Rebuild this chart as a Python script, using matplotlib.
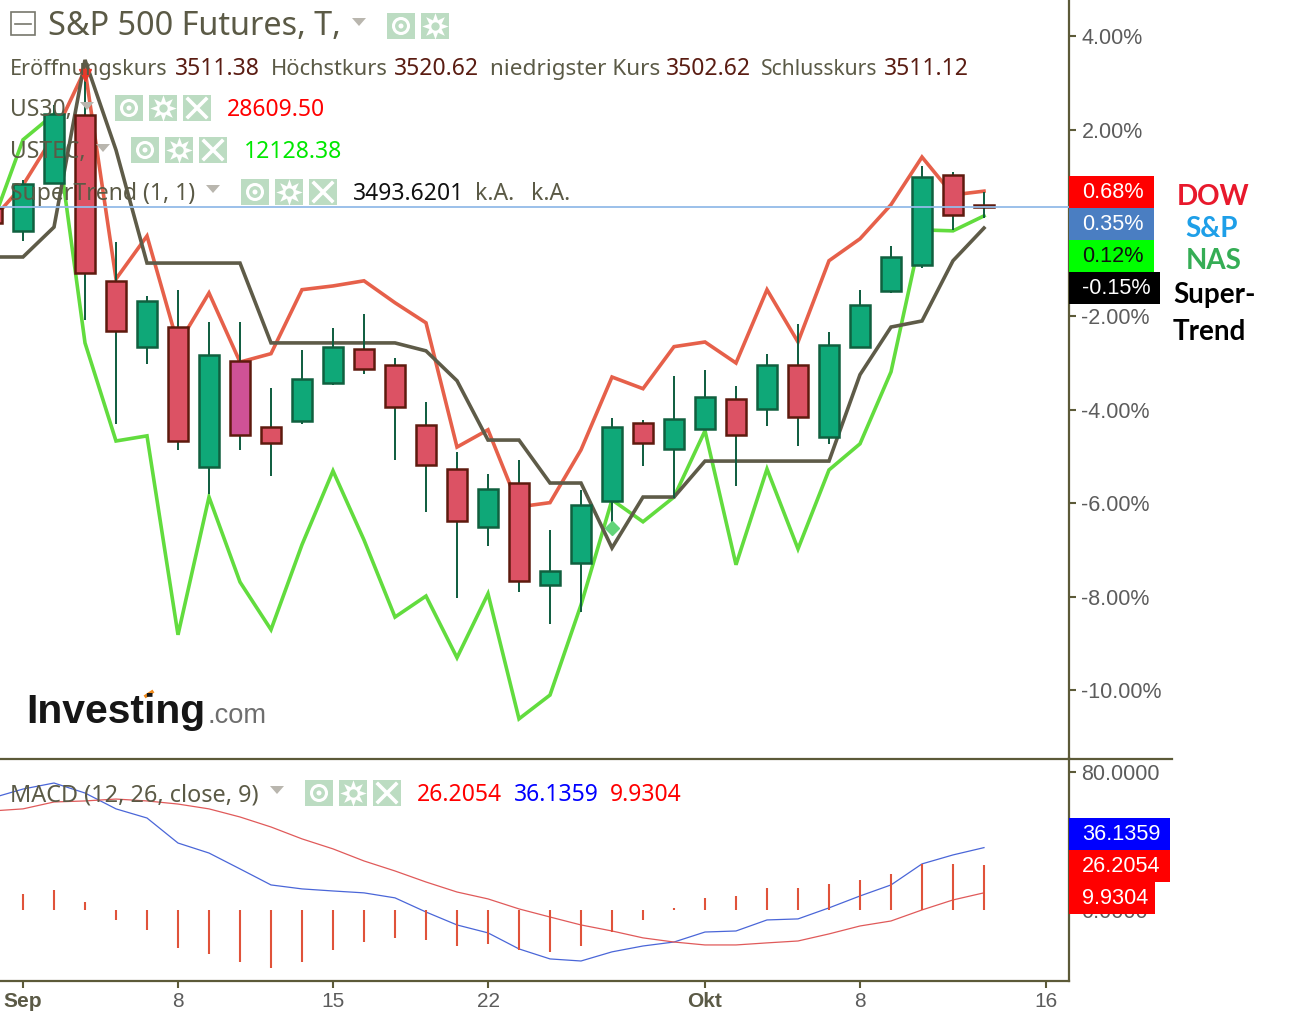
# %% --------------- IMPORT
from matplotlib import pyplot as plt
from matplotlib.patches import Rectangle, Circle, Polygon
import numpy as np

# %% --------------- DATA
bar_idx = np.arange(-1, 32)
open_p = [0.32, -0.17, 0.86, 2.31, -1.24, -2.65, -2.23, -5.22, -2.95, -4.37, -4.24, -3.43, -2.70, -3.04, -4.32, -5.27,
          -6.51, -5.57, -7.75, -7.28, -5.95, -4.28, -4.84, -4.41, -3.77, -3.98, -3.04, -4.58, -2.65, -1.46, -0.90, 1.03, 0.39]
close_p = [0.00, 0.84, 2.33, -1.07, -2.31, -1.67, -4.67, -2.83, -4.54, -4.71, -3.34, -2.65, -3.13, -3.94, -5.18, -6.38,
           -5.70, -7.66, -7.45, -6.04, -4.37, -4.71, -4.20, -3.73, -4.54, -3.04, -4.15, -2.61, -1.76, -0.73, 0.98, 0.17, 0.34]
high_p = [0.40, 0.92, 2.53, 3.10, -0.41, -1.56, -1.43, -2.12, -2.12, -3.53, -2.72, -2.25, -1.95, -2.89, -3.83, -4.90,
          -5.37, -5.07, -6.57, -5.72, -4.17, -4.22, -3.28, -3.15, -3.49, -2.80, -2.16, -2.33, -1.43, -0.49, 1.22, 1.09, 0.66]
low_p = [-0.10, -0.39, 0.86, -2.08, -4.30, -3.02, -4.86, -5.80, -4.86, -5.42, -4.30, -3.47, -3.23, -5.07, -6.19, -8.03,
         -6.92, -7.90, -8.59, -8.33, -6.57, -5.20, -5.89, -4.43, -5.63, -4.35, -4.77, -4.73, -2.68, -1.50, -0.96, -0.15, 0.11]

dow = [0.06, 0.81, 1.88, 3.28, -1.20, -0.28, -2.61, -1.50, -2.98, -2.80, -1.43, -1.35, -1.24, -1.71, -2.14, -4.80, -4.43,
       -6.08, -5.99, -4.86, -3.30, -3.55, -2.65, -2.55, -3.00, -1.43, -2.55, -0.81, -0.34, 0.39, 1.41, 0.60, 0.68]
nas = [-0.04, 1.78, 2.33, -2.57, -4.67, -4.56, -8.82, -5.87, -7.69, -8.71, -6.89, -5.31, -6.79, -8.44, -7.99, -9.31, -7.94,
       -10.62, -10.11, -8.18, -5.93, -6.40, -5.87, -4.45, -7.32, -5.27, -6.98, -5.29, -4.73, -3.19, -0.15, -0.17, 0.15]
supertrend = [-0.73, -0.73, -0.09, 3.49, 1.56, -0.86, -0.86, -0.86, -0.86, -2.57, -2.57, -2.57, -2.57, -2.57, -2.74, -3.38,
              -4.65, -4.65, -5.57, -5.57, -6.96, -5.87, -5.87, -5.10, -5.10, -5.10, -5.10, -5.10, -3.25, -2.23, -2.10, -0.81, -0.11]

macd = [64.9, 70.1, 73.6, 67.8, 58.6, 53.3, 38.8, 33.0, 23.8, 14.5, 12.2, 11.0, 9.9, 7.0, -1.2, -8.7, -13.3, -22.6, -28.4,
        -29.6, -24.3, -20.9, -18.6, -12.8, -12.2, -5.8, -5.2, 1.2, 8.1, 14.5, 26.7, 31.9, 36.1359]
signal = [57.4, 58.6, 62.6, 63.2, 64.3, 63.2, 61.4, 58.6, 53.9, 48.1, 41.2, 35.4, 28.4, 22.6, 16.2, 10.4, 6.4, 0.6, -4.1,
          -8.7, -12.2, -16.2, -18.6, -20.3, -20.3, -19.1, -18.0, -13.9, -9.3, -6.4, 0.0, 5.8, 9.9304]
hist = [9.3, 11.6, 4.6, -5.8, -11.6, -22.0, -25.5, -30.1, -33.6, -30.1, -23.2, -18.6, -16.2, -17.4, -20.9, -19.7, -23.2,
        -24.3, -20.9, -12.8, -5.8, 1.2, 7.0, 8.1, 12.8, 12.8, 15.1, 17.4, 20.9, 26.7, 26.7, 26.2054]

price_ticks = [4, 2, 0, -2, -4, -6, -8, -10]
macd_ticks = [80, 0]
date_ticks = [0, 5, 10, 15, 22, 27, 33]
date_labels = ["Sep", "8", "15", "22", "Okt", "8", "16"]
last_line = 0.35

# %% --------------- STYLE
OLIVE = "#5c5a38"
TXT = "#5b5a46"
DARK_RED = "#5a1c12"
UI_FONT = "Noto Sans"
AXIS_FONT = "Liberation Sans"

fig = plt.figure(figsize=(13.07, 10.13), dpi=100)
W, H = 1307, 1013
ax_1 = fig.add_axes([0, (H - 758) / H, 1069 / W, 758 / H])
ax_2 = fig.add_axes([0, (H - 981) / H, 1069 / W, (981 - 758) / H])
over = fig.add_axes([0, 0, 1, 1], zorder=10)
over.set_xlim(0, W)
over.set_ylim(H, 0)
over.axis("off")

# %% --------------- PRICE PANE
ax_1.plot(bar_idx, dow, color="#e6604a", lw=2.6, zorder=2, solid_joinstyle="miter")
ax_1.plot(bar_idx, nas, color="#62dc3e", lw=2.6, zorder=2, solid_joinstyle="miter")
ax_1.plot(bar_idx, supertrend, color="#5e5b48", lw=2.6, zorder=2, solid_joinstyle="miter")

ax_1.vlines(bar_idx, low_p, high_p, color="#0d5c3e", lw=1.4, zorder=3)
for i, o, c in zip(bar_idx, open_p, close_p):
    up = c > o
    face = "#0fa878" if up else "#dc5264"
    if i == 7:
        face = "#cf5296"
    edge = "#10603f" if up else "#5e1a0e"
    ax_1.bar(i, abs(c - o), bottom=min(o, c), width=0.66, color=face, edgecolor=edge, linewidth=1.8, zorder=4)

ax_1.plot([2], [3.17], marker="v", color="#e8392a", ms=9, zorder=5)
ax_1.plot([19], [-6.53], marker="D", color="#63d47a", ms=7, zorder=5)
ax_1.axhline(last_line, color="#93bbe8", lw=1.3, zorder=6)

ax_1.set_xlim(-0.742, 33.742)
ax_1.set_ylim(-11.458, 4.773)
ax_1.yaxis.tick_right()
ax_1.set_yticks(price_ticks)
ax_1.set_yticklabels(["" if v == 0 else f"{v:.2f}%" for v in price_ticks], fontfamily=AXIS_FONT, fontsize=15.5, color="#5c5c5c")
ax_1.tick_params(axis="y", length=5, width=1.5, color=OLIVE, pad=4)
ax_1.set_xticks([])
for name in ["top", "left", "bottom"]:
    ax_1.spines[name].set_visible(False)
ax_1.spines["right"].set_color(OLIVE)
ax_1.spines["right"].set_linewidth(1.6)

# %% --------------- MACD PANE
ax_2.plot(bar_idx, macd, color="#4a66d8", lw=0.9)
ax_2.plot(bar_idx, signal, color="#e05a5a", lw=0.9)
ax_2.vlines(bar_idx[1:], 0, hist, color="#e0533a", lw=1.5)
ax_2.set_xlim(-0.742, 33.742)
ax_2.set_ylim(-41.2, 88.1)
ax_2.yaxis.tick_right()
ax_2.set_yticks(macd_ticks)
ax_2.set_yticklabels([f"{v:.4f}" for v in macd_ticks], fontfamily=AXIS_FONT, fontsize=15.5, color="#5c5c5c")
ax_2.tick_params(axis="y", length=5, width=1.5, color=OLIVE, pad=4)
ax_2.set_xticks(date_ticks)
ax_2.set_xticklabels(date_labels, fontfamily=AXIS_FONT, fontsize=15, color="#5c5c5c")
for lab in ax_2.get_xticklabels():
    if lab.get_text() in ("Sep", "Okt"):
        lab.set_fontweight("bold")
        lab.set_color(TXT)
ax_2.tick_params(axis="x", length=5, width=1.5, color=OLIVE, pad=3)
ax_2.spines["top"].set_visible(False)
ax_2.spines["left"].set_visible(False)
for name in ["right", "bottom"]:
    ax_2.spines[name].set_color(OLIVE)
    ax_2.spines[name].set_linewidth(1.6)
over.plot([0, 1172], [758.5, 758.5], color=OLIVE, lw=1.6)


# %% --------------- HEADER AND LABELS
def label(x, y, s, color=TXT, size=16.5, family=UI_FONT, **kw):
    over.text(x, y + 2, s, color=color, fontsize=size, family=family, va="center", **kw)


def tri(x, y):
    over.add_patch(Polygon([(x - 7, y - 4), (x + 7, y - 4), (x, y + 4)], color="#b9b6ae", lw=0))


def icon(cx, cy, kind):
    over.add_patch(Rectangle((cx - 14, cy - 13), 28, 26, color="#bcdcc2", lw=0))
    if kind == "eye":
        over.add_patch(Circle((cx, cy), 7.5, fill=False, ec="white", lw=2.2))
        over.add_patch(Circle((cx, cy), 2.5, color="white", lw=0))
    elif kind == "gear":
        over.plot([cx], [cy], marker=(8, 1, 0), color="white", ms=19, mew=0)
        over.plot([cx], [cy], marker="o", color="#bcdcc2", ms=6, mew=0)
    else:
        over.plot([cx - 9, cx + 9], [cy - 9, cy + 9], color="white", lw=2.6)
        over.plot([cx - 9, cx + 9], [cy + 9, cy - 9], color="white", lw=2.6)


over.add_patch(Rectangle((11, 12), 24, 23, fill=False, ec="#77776c", lw=1.2))
over.plot([15, 31], [23.5, 23.5], color="#77776c", lw=1.2)
label(48, 24, "S&P 500 Futures, T,", size=23.3)
tri(359, 22)
for cx, k in zip([401, 435], ["eye", "gear"]):
    icon(cx, 26, k)

for x, s, col, fs in [(10, "Eröffnungskurs", TXT, 15.6), (175, "3511.38", DARK_RED, 16.5), (271, "Höchstkurs", TXT, 15.8),
                      (394, "3520.62", DARK_RED, 16.5), (490, "niedrigster Kurs", TXT, 16.2), (666, "3502.62", DARK_RED, 16.5),
                      (761, "Schlusskurs", TXT, 15.2), (884, "3511.12", DARK_RED, 16.5)]:
    label(x, 67, s, col, fs)

label(10, 108, "US30,")
tri(87, 106)
for cx, k in zip([129, 163, 197], ["eye", "gear", "x"]):
    icon(cx, 108, k)
label(227, 108, "28609.50", "#ff0000")

label(10, 150, "USTEC,")
tri(103, 148)
for cx, k in zip([145, 179, 213], ["eye", "gear", "x"]):
    icon(cx, 150, k)
label(244, 150, "12128.38", "#00e800")

label(10, 192, "SuperTrend (1, 1)")
tri(213, 189)
for cx, k in zip([255, 289, 323], ["eye", "gear", "x"]):
    icon(cx, 192, k)
label(353, 192, "3493.6201", "#111111")
label(475, 192, "k.A.")
label(531, 192, "k.A.")

label(10, 793, "MACD (12, 26, close, 9)", size=16.9)
tri(277, 790)
for cx, k in zip([319, 353, 387], ["eye", "gear", "x"]):
    icon(cx, 793, k)
label(417, 793, "26.2054", "#ff0000")
label(514, 793, "36.1359", "#0000ff")
label(610, 793, "9.9304", "#ff0000")

# value boxes right of the axis
for y0, x1, face, col, s in [(176, 1154, "#ff0000", "white", "0.68%"), (208, 1154, "#4a7ec2", "white", "0.35%"),
                             (240, 1154, "#00ff00", "#111111", "0.12%"), (272, 1160, "#000000", "white", "-0.15%"),
                             (818, 1170, "#0000ff", "white", "36.1359"), (850, 1170, "#ff0000", "white", "26.2054"),
                             (882, 1155, "#ff0000", "white", "9.9304")]:
    over.add_patch(Rectangle((1069, y0), x1 - 1069, 32, color=face, lw=0))
    label(1082, y0 + 14.5, s, col, 15.6, AXIS_FONT)

# hand written names next to the boxes
label(1213, 195, "DOW", "#e8192c", 20, "Lato", weight="bold", ha="center")
label(1212, 227, "S&P", "#1e9fe8", 20, "Lato", weight="bold", ha="center")
label(1214, 259, "NAS", "#35ad55", 20, "Lato", weight="bold", ha="center")
label(1173, 293, "Super-", "#000000", 20, "Lato", weight="bold")
label(1173, 330, "Trend", "#000000", 20, "Lato", weight="bold")

# logo
label(26, 710, "Investing", "#161616", 29.4, AXIS_FONT, weight="bold")
label(207, 714, ".com", "#6e6e6e", 19.6, AXIS_FONT)
over.plot([146, 152], [696, 692], color="#f08a1c", lw=2.5)

plt.savefig("out.png", dpi=100)
